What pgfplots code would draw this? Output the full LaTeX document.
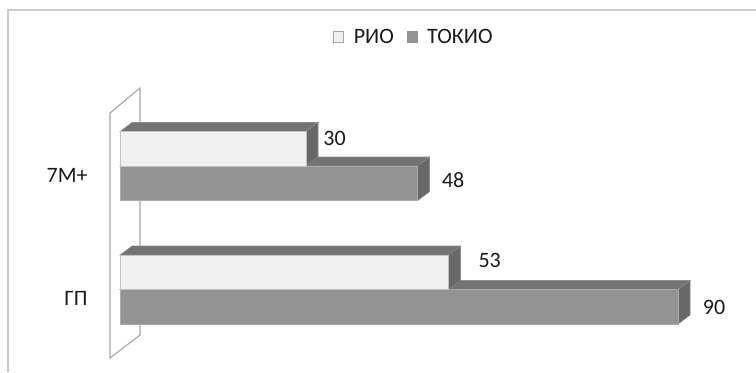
\documentclass[border=0pt]{standalone}
\usepackage{fontspec}
\setmainfont{Carlito}
\usepackage{pgfplots}
\usepackage{pgfplotstable}
\pgfplotsset{compat=1.18}
\definecolor{rioc}{HTML}{F0F0F0}
\definecolor{rioe}{HTML}{C2C2C2}
\definecolor{tokc}{HTML}{939393}
\definecolor{toke}{HTML}{ABABAB}
\definecolor{topc}{HTML}{737373}
\definecolor{sidec}{HTML}{686868}
\definecolor{wallc}{HTML}{A6A6A6}
\definecolor{framec}{HTML}{CCCCCC}
\definecolor{txtc}{HTML}{1A1A1A}

% category position (pixel-like units), values, label offsets (pt)
\pgfplotstableread{
y rio tokio rdx rdy tdx tdy
206 30 48 8.5 13.6 12 -6.9
82.5 53 90 14.75 14.6 12.25 -9.1
}\data

\begin{document}
\begin{tikzpicture}
\begin{axis}[
  x=3.1pt, y=0.5pt,
  xmin=-19.355, xmax=102.58, ymin=0, ymax=372,
  clip=false,
  axis line style={draw=none},
  xtick=\empty,
  ytick={82.5,206},
  yticklabels={ГП,7M+},
  major tick length=0pt,
  tick style={draw=none},
  yticklabel style={anchor=east, inner sep=0pt, xshift=44pt, yshift=-4.5pt,
    font=\fontsize{11}{13}\selectfont, text=txtc},
  legend columns=2,
  legend style={draw=none, fill=none, at={(axis cs:47.5,334)}, anchor=center,
    font=\fontsize{11}{13}\selectfont, text=txtc,
    nodes={inner sep=1.5pt},
    /tikz/every even column/.append style={column sep=5pt}},
]
\coordinate (bbll) at (axis cs:-19.355,0);
\coordinate (bbur) at (axis cs:102.58,372);
\draw[framec, line width=1pt] (axis cs:-18.06,0) -- (axis cs:-18.06,362) -- (axis cs:102.58,362);

\addlegendimage{legend image code/.code={\draw[fill=rioc,draw=wallc,line width=0.4pt] (0pt,-2.4pt) rectangle (5pt,3.1pt); \path[draw=none,fill=none] (0pt,0pt) -- (8.5pt,0pt);}}
\addlegendentry{РИО}
\addlegendimage{legend image code/.code={\draw[fill=tokc,draw=tokc,line width=0.4pt] (0pt,-2.4pt) rectangle (5pt,3.1pt); \path[draw=none,fill=none] (0pt,0pt) -- (8.5pt,0pt);}}
\addlegendentry{ТОКИО}

% back wall
\addplot[draw=wallc, fill=white, line width=0.55pt, forget plot]
  coordinates {(-1.613,259) (3.226,284) (3.226,37) (-1.613,14)} -- cycle;

% ТОКИО depth faces
\addplot[fill=topc, draw=topc!80!white, line width=0.3pt, forget plot]
  coordinates {(0,206) (1.935,215) (49.935,215) (48,206)} -- cycle;
\addplot[fill=sidec, draw=sidec!80!white, line width=0.3pt, forget plot]
  coordinates {(48,206) (49.935,215) (49.935,180.5) (48,171.5)} -- cycle;
\addplot[fill=topc, draw=topc!80!white, line width=0.3pt, forget plot]
  coordinates {(0,82.5) (1.935,91.5) (91.935,91.5) (90,82.5)} -- cycle;
\addplot[fill=sidec, draw=sidec!80!white, line width=0.3pt, forget plot]
  coordinates {(90,82.5) (91.935,91.5) (91.935,57) (90,48)} -- cycle;

% ТОКИО front faces
\addplot[xbar, bar width=17.25pt, bar shift=-8.625pt, fill=tokc, draw=toke,
  line width=0.4pt, forget plot,
  point meta=explicit symbolic, nodes near coords,
  visualization depends on={\thisrow{tdx}\as\lx},
  visualization depends on={\thisrow{tdy}\as\ly},
  nodes near coords style={anchor=west, inner sep=0pt, xshift=\lx pt, yshift=\ly pt,
    font=\fontsize{11}{13}\selectfont, text=txtc}]
  table[x=tokio, y=y, meta=tokio]{\data};

% РИО depth faces
\addplot[fill=topc, draw=topc!80!white, line width=0.3pt, forget plot]
  coordinates {(0,240.5) (1.935,249.5) (31.935,249.5) (30,240.5)} -- cycle;
\addplot[fill=sidec, draw=sidec!80!white, line width=0.3pt, forget plot]
  coordinates {(30,240.5) (31.935,249.5) (31.935,215) (30,206)} -- cycle;
\addplot[fill=topc, draw=topc!80!white, line width=0.3pt, forget plot]
  coordinates {(0,117) (1.935,126) (54.935,126) (53,117)} -- cycle;
\addplot[fill=sidec, draw=sidec!80!white, line width=0.3pt, forget plot]
  coordinates {(53,117) (54.935,126) (54.935,91.5) (53,82.5)} -- cycle;

% РИО front faces
\addplot[xbar, bar width=17.25pt, bar shift=8.625pt, fill=rioc, draw=rioe,
  line width=0.4pt, forget plot,
  point meta=explicit symbolic, nodes near coords,
  visualization depends on={\thisrow{rdx}\as\lx},
  visualization depends on={\thisrow{rdy}\as\ly},
  nodes near coords style={anchor=west, inner sep=0pt, xshift=\lx pt, yshift=\ly pt,
    font=\fontsize{11}{13}\selectfont, text=txtc}]
  table[x=rio, y=y, meta=rio]{\data};
\end{axis}
\pgfresetboundingbox
\useasboundingbox (bbll) rectangle (bbur);
\end{tikzpicture}
\end{document}
